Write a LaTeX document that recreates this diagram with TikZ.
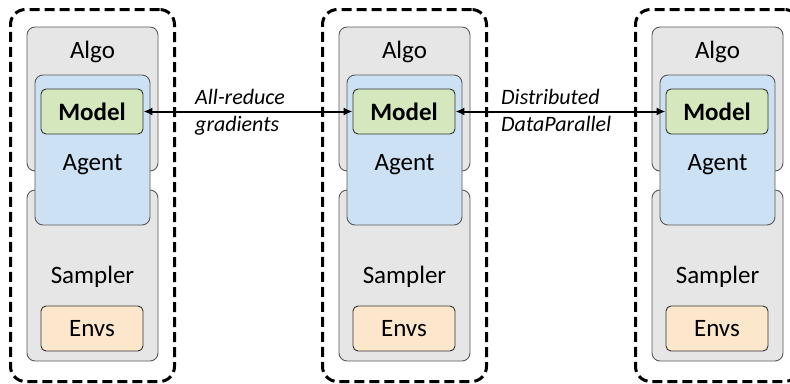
\documentclass[tikz,border=0pt]{standalone}
\usepackage{fontspec}
\setmainfont{Carlito}
\usepackage{tikz}
\usetikzlibrary{arrows.meta,positioning}
\tikzset{>={Latex[length=9pt,width=8pt]}}
\definecolor{boxgray}{HTML}{E6E6E6}
\definecolor{boxline}{HTML}{595959}
\definecolor{agentblue}{HTML}{CCE1F4}
\definecolor{modelgreen}{HTML}{D5E8BD}
\definecolor{envsorange}{HTML}{FCE6CC}
\tikzset{
  worker/.style={draw=black,line width=3pt,dash pattern=on 10pt off 5pt,rounded corners=15pt},
  part/.style={draw=boxline,line width=0.9pt,fill=boxgray,rounded corners=8pt},
  agentbox/.style={draw=boxline,line width=0.9pt,fill=agentblue,rounded corners=8pt},
  smallbox/.style={draw=black!80,line width=0.9pt,rounded corners=5pt},
  boxtext/.style={font=\fontsize{25}{30}\selectfont,inner sep=0pt},
  commtext/.style={font=\fontsize{22}{27}\selectfont\itshape,inner sep=0pt,anchor=base west}
}

\begin{document}
\begin{tikzpicture}[x=1pt,y=-1pt]
                \useasboundingbox (0,0) rectangle (790,383);
                \clip (0,0) rectangle (790,383);

                \foreach \i/\ox in {1/0,2/312,3/625} {
                  \node[part,minimum width=131pt,minimum height=144pt] (algo\i) at (92.5+\ox,99) {};
                  \node[part,minimum width=131pt,minimum height=171pt] (sampler\i) at (92.5+\ox,275.5) {};
                  \node[agentbox,minimum width=115pt,minimum height=150pt] (agent\i) at (92.5+\ox,150) {};
                  \node[smallbox,fill=modelgreen,minimum width=102pt,minimum height=45pt,boxtext] (model\i) at (92+\ox,111.5) {\bfseries Model};
                  \node[smallbox,fill=envsorange,minimum width=102pt,minimum height=45pt,boxtext] (envs\i) at (92+\ox,328.5) {Envs};
                  \node[worker,minimum width=164pt,minimum height=372pt] (worker\i) at (92.5+\ox,195.5) {};

                  \node[boxtext] (algotxt\i) at (92.5+\ox,52) {Algo};
                  \node[boxtext] (agenttxt\i) at (92.5+\ox,165) {Agent};
                  \node[boxtext] (samplertxt\i) at (92.5+\ox,277) {Sampler};
                }

                % communication between the workers
                \draw[<->,line width=2pt] (model1.east) -- (model2.west);
                \draw[<->,line width=2pt] (model2.east) -- (model3.west);
                \node[commtext] (allreduce) at (195,104) {All-reduce};
                \node[commtext] (gradients) at (195,131) {gradients};
                \node[commtext] (distributed) at (501,104) {Distributed};
                \node[commtext] (dataparallel) at (501,131) {DataParallel};
                \end{tikzpicture}
\end{document}
